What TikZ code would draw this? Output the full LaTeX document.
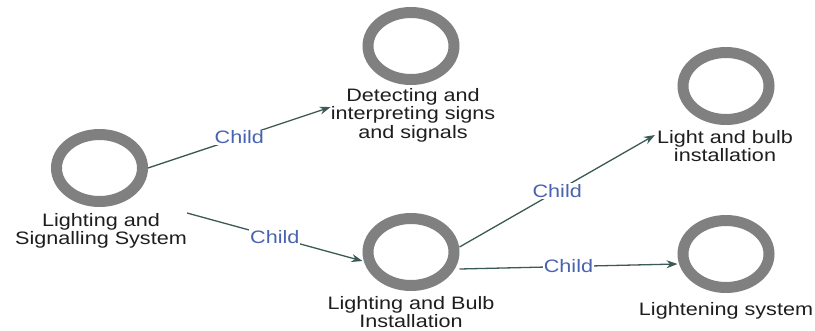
\documentclass[tikz,border=0pt]{standalone}
\usepackage{fontspec}
\setmainfont{Liberation Sans}[FakeStretch=1.2]
\usetikzlibrary{shapes.geometric,arrows.meta}
\definecolor{ring}{RGB}{128,128,128}
\definecolor{edgec}{RGB}{60,90,85}
\definecolor{childc}{RGB}{74,99,176}
\definecolor{txt}{RGB}{30,30,30}
\begin{document}
\begin{tikzpicture}[x=1pt,y=-1pt,
  ringnode/.style={ellipse,draw=ring,line width=11pt,fill=white,minimum width=86pt,minimum height=67pt,inner sep=0pt},
  lbl/.style={align=center,font=\fontsize{18}{18.5}\selectfont,text=txt,inner sep=0pt},
  conn/.style={draw=edgec,line width=1.3pt,-{Stealth[length=11pt,width=8pt]}},
  childlbl/.style={fill=white,text=childc,font=\fontsize{18}{18}\selectfont,inner sep=1pt}]
\useasboundingbox[fill=white] (0,0) rectangle (815,330);
% nodes
\node[ringnode] (rootC) at (99.5,168) {};
\node[lbl,anchor=north] (rootL) at (101,213) {Lighting and\\Signalling System};
\node[ringnode] (detC) at (411,46) {};
\node[lbl,anchor=north] (detL) at (413,88) {Detecting and\\interpreting signs\\and signals};
\node[ringnode] (lbC) at (411,252) {};
\node[lbl,anchor=north] (lbL) at (411,296) {Lighting and Bulb\\Installation};
\node[ringnode] (lightC) at (726,86) {};
\node[lbl,anchor=north] (lightL) at (725,130) {Light and bulb\\installation};
\node[ringnode] (lgC) at (726,254) {};
\node[lbl,anchor=north] (lgL) at (726,302) {Lightening system};
% connectors
\draw[conn] (rootC.east) -- node[childlbl]{Child} ([yshift=8pt]detL.west);
\draw[conn] (rootL.north east) -- node[childlbl]{Child} ([yshift=-9pt]lbC.west);
\draw[conn] ([yshift=5pt]lbC.east) -- node[childlbl]{Child} ([xshift=-2pt,yshift=-5pt]lightL.north west);
\draw[conn] ([yshift=-17pt]lbC.east) -- node[childlbl]{Child} ([yshift=-10pt]lgC.west);
\end{tikzpicture}
\end{document}
